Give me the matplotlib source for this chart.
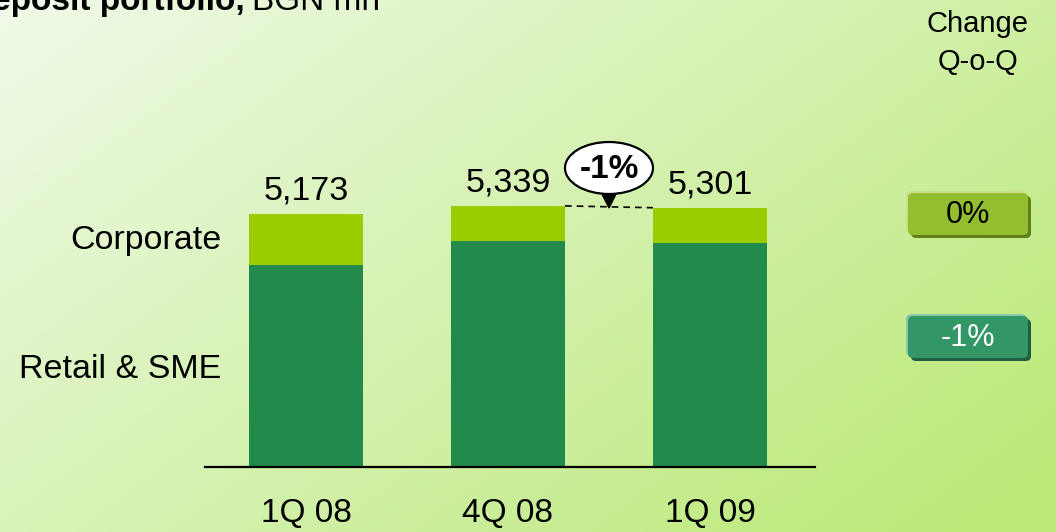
import numpy as np
import matplotlib.pyplot as plt
from matplotlib.patches import FancyBboxPatch, Ellipse, Polygon

plt.rcParams['font.family'] = ['Liberation Sans', 'DejaVu Sans']

quarters = ['1Q 08', '4Q 08', '1Q 09']
retail = [4130, 4621, 4580]
corporate = [1043, 718, 721]
totals = [5173, 5339, 5301]
change_labels = ['0%', '-1%']
callout = '-1%'

W, H = 1056, 532
fig = plt.figure(figsize=(W / 100, H / 100), dpi=100)

# background gradient
bg = fig.add_axes([0, 0, 1, 1])
yy, xx = np.mgrid[0:H, 0:W]
t = np.clip(0.62 * xx / W + 0.42 * yy / H, 0, 1)[..., None]
c0 = np.array([240, 250, 233]) / 255
c1 = np.array([186, 233, 118]) / 255
bg.imshow(c0 * (1 - t) + c1 * t, aspect='auto', extent=[0, W, H, 0])
bg.set_xlim(0, W)
bg.set_ylim(H, 0)
bg.axis('off')

# bars
ax = fig.add_axes([205 / W, (H - 467) / H, 610 / W, 367 / H])
ax.patch.set_alpha(0)
x = np.arange(len(quarters))
w = 0.565
ax.bar(x, retail, w, color='#228B4B', zorder=2)
ax.bar(x, corporate, w, bottom=retail, color='#9ACC00', zorder=2)
for xi, tot in zip(x, totals):
    ax.text(xi, tot + 150, f'{tot:,}', ha='center', va='bottom', fontsize=24.5)
ax.plot([1 + w / 2, 2 - w / 2], [totals[1], totals[2]], color='black',
        lw=1.2, ls=(0, (4, 3)), zorder=3)
ax.set_xlim(-0.5, 2.52)
ax.set_ylim(0, 7504)
ax.set_xticks(x, quarters, fontsize=24)
ax.tick_params(axis='x', length=0, pad=22)
ax.set_yticks([])
for s in ['top', 'right', 'left']:
    ax.spines[s].set_visible(False)
ax.spines['bottom'].set_linewidth(1.6)

# overlay in pixel coords
ov = fig.add_axes([0, 0, 1, 1])
ov.set_xlim(0, W)
ov.set_ylim(H, 0)
ov.axis('off')

ov.text(245, 10, 'Deposit portfolio,', ha='right', va='baseline',
        fontsize=24, fontweight='bold')
ov.text(252, 10, 'BGN mn', ha='left', va='baseline', fontsize=24)

ov.text(221, 241, 'Corporate', ha='right', va='center', fontsize=24.5)
ov.text(221, 370, 'Retail & SME', ha='right', va='center', fontsize=24.5)
ov.text(978, 24, 'Change', ha='center', va='center', fontsize=21)
ov.text(978, 62, 'Q-o-Q', ha='center', va='center', fontsize=21)

# change boxes
boxes = [(193, '#93BE2F', '#5E7F1A', '#C9DE8F', 'black'),
         (316, '#339666', '#1F5E3F', '#8CC9A8', 'white')]
for (top, face, shade, hi, tc), lab in zip(boxes, change_labels):
    for dx, dy, c in [(-2, -2, hi), (3, 3, shade), (0, 0, face)]:
        ov.add_patch(FancyBboxPatch((908 + dx, top + dy), 120, 42,
                                    boxstyle='round,pad=0,rounding_size=5',
                                    fc=c, ec='none'))
    ov.text(968, top + 22, lab, ha='center', va='center', fontsize=22, color=tc)

# callout
ov.add_patch(Polygon([[599, 188], [619, 188], [609, 208]], closed=True,
                     fc='black', ec='black', zorder=4))
ov.add_patch(Ellipse((609, 168), 88, 52, fc='white', ec='black', lw=1.6, zorder=5))
ov.text(609, 169, callout, ha='center', va='center', fontsize=24,
        fontweight='bold', zorder=6)

fig.savefig('out.png', dpi=100)
